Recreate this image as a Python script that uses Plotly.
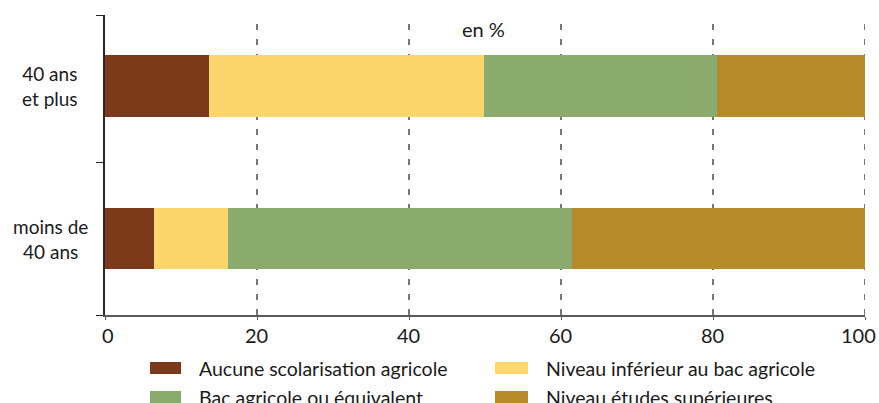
import plotly.graph_objects as go

# Répartition par niveau de formation agricole, selon l'âge (en %)
groups = ["moins de<br>40 ans", "40 ans<br>et plus"]
group_pos = [0, 1]
series_names = [
    "Aucune scolarisation agricole",
    "Niveau inférieur au bac agricole",
    "Bac agricole ou équivalent",
    "Niveau études supérieures",
]
aucune = [6.4, 13.7]
inferieur_bac = [9.8, 36.2]
bac = [45.2, 30.6]
superieur = [38.6, 19.5]
series_values = [aucune, inferieur_bac, bac, superieur]
colors = ["#7C3A1A", "#FBD66C", "#8AAA6E", "#B78B2A"]
x_ticks = [0, 20, 40, 60, 80, 100]

FONT = "Lato"
TXT = "#1a1a1a"
W, H = 879, 403
L, R, T, B = 105, 14, 15, 88
plot_w = W - L - R
plot_h = H - T - B


def px_x(px):
    return (px - L) / plot_w


def px_y(py):
    return (T + plot_h - py) / plot_h


fig = go.Figure()
for name, vals, col in zip(series_names, series_values, colors):
    fig.add_trace(go.Bar(
        x=vals, y=group_pos, name=name, orientation="h",
        marker=dict(color=col, line=dict(width=0)),
        width=0.40, showlegend=False,
    ))

# dashed vertical gridlines
for v in x_ticks[1:]:
    fig.add_shape(type="line", xref="x", yref="paper", x0=v, x1=v, y0=0, y1=1,
                  line=dict(color="#1f1f1f", width=1.2, dash="6px,9px"), layer="below")

# x tick labels (last one pulled inside the frame)
for v in x_ticks:
    anchor = "right" if v == x_ticks[-1] else "center"
    shift = 13 if v == x_ticks[-1] else (3 if v == x_ticks[0] else -1)
    fig.add_annotation(text=str(v), xref="x", yref="paper", x=v, y=px_y(335),
                       xanchor=anchor, yanchor="middle", xshift=shift, showarrow=False,
                       font=dict(family=FONT, size=20, color=TXT))

# group labels
for g, p in zip(groups, group_pos):
    fig.add_annotation(text=g, xref="paper", yref="y", x=px_x(50), y=p,
                       xanchor="center", yanchor="middle", showarrow=False,
                       font=dict(family=FONT, size=19, color=TXT), align="center")

fig.add_annotation(text="en %", xref="paper", yref="paper",
                   x=px_x(483), y=px_y(29),
                   xanchor="center", yanchor="middle", showarrow=False,
                   font=dict(family=FONT, size=20, color=TXT))

# legend drawn as boxes + labels, two columns
legend_cols = [(150, 181, 197), (495, 528, 544)]
legend_rows = [368, 397]
for i, (name, col) in enumerate(zip(series_names, colors)):
    r, c = divmod(i, 2)
    bx0, bx1, tx = legend_cols[c]
    py = legend_rows[r]
    fig.add_shape(type="rect", xref="paper", yref="paper",
                  x0=px_x(bx0), x1=px_x(bx1), y0=px_y(py + 6), y1=px_y(py - 6),
                  fillcolor=col, line=dict(width=0))
    fig.add_annotation(text=name, xref="paper", yref="paper",
                       x=px_x(tx), y=px_y(py),
                       xanchor="left", yanchor="middle", showarrow=False,
                       font=dict(family=FONT, size=19.5, color=TXT))

fig.update_layout(
    barmode="stack",
    width=W, height=H,
    margin=dict(l=L, r=R, t=T, b=B, pad=0),
    paper_bgcolor="white", plot_bgcolor="white",
    showlegend=False,
    font=dict(family=FONT, color=TXT),
)
fig.update_xaxes(range=[0, 100], tickvals=x_ticks, showticklabels=False,
                 showgrid=False, zeroline=False,
                 showline=True, linecolor="#595959", linewidth=1.5,
                 ticks="outside", ticklen=3, tickcolor="#595959")
fig.update_yaxes(range=[-0.5, 1.465], tickvals=[-0.5, 0.5, 1.465], showticklabels=False,
                 showgrid=False, zeroline=False, showline=True, linecolor="#262626",
                 linewidth=1.5, ticks="outside", ticklen=7, tickcolor="#262626")

fig.write_html("out.html")
